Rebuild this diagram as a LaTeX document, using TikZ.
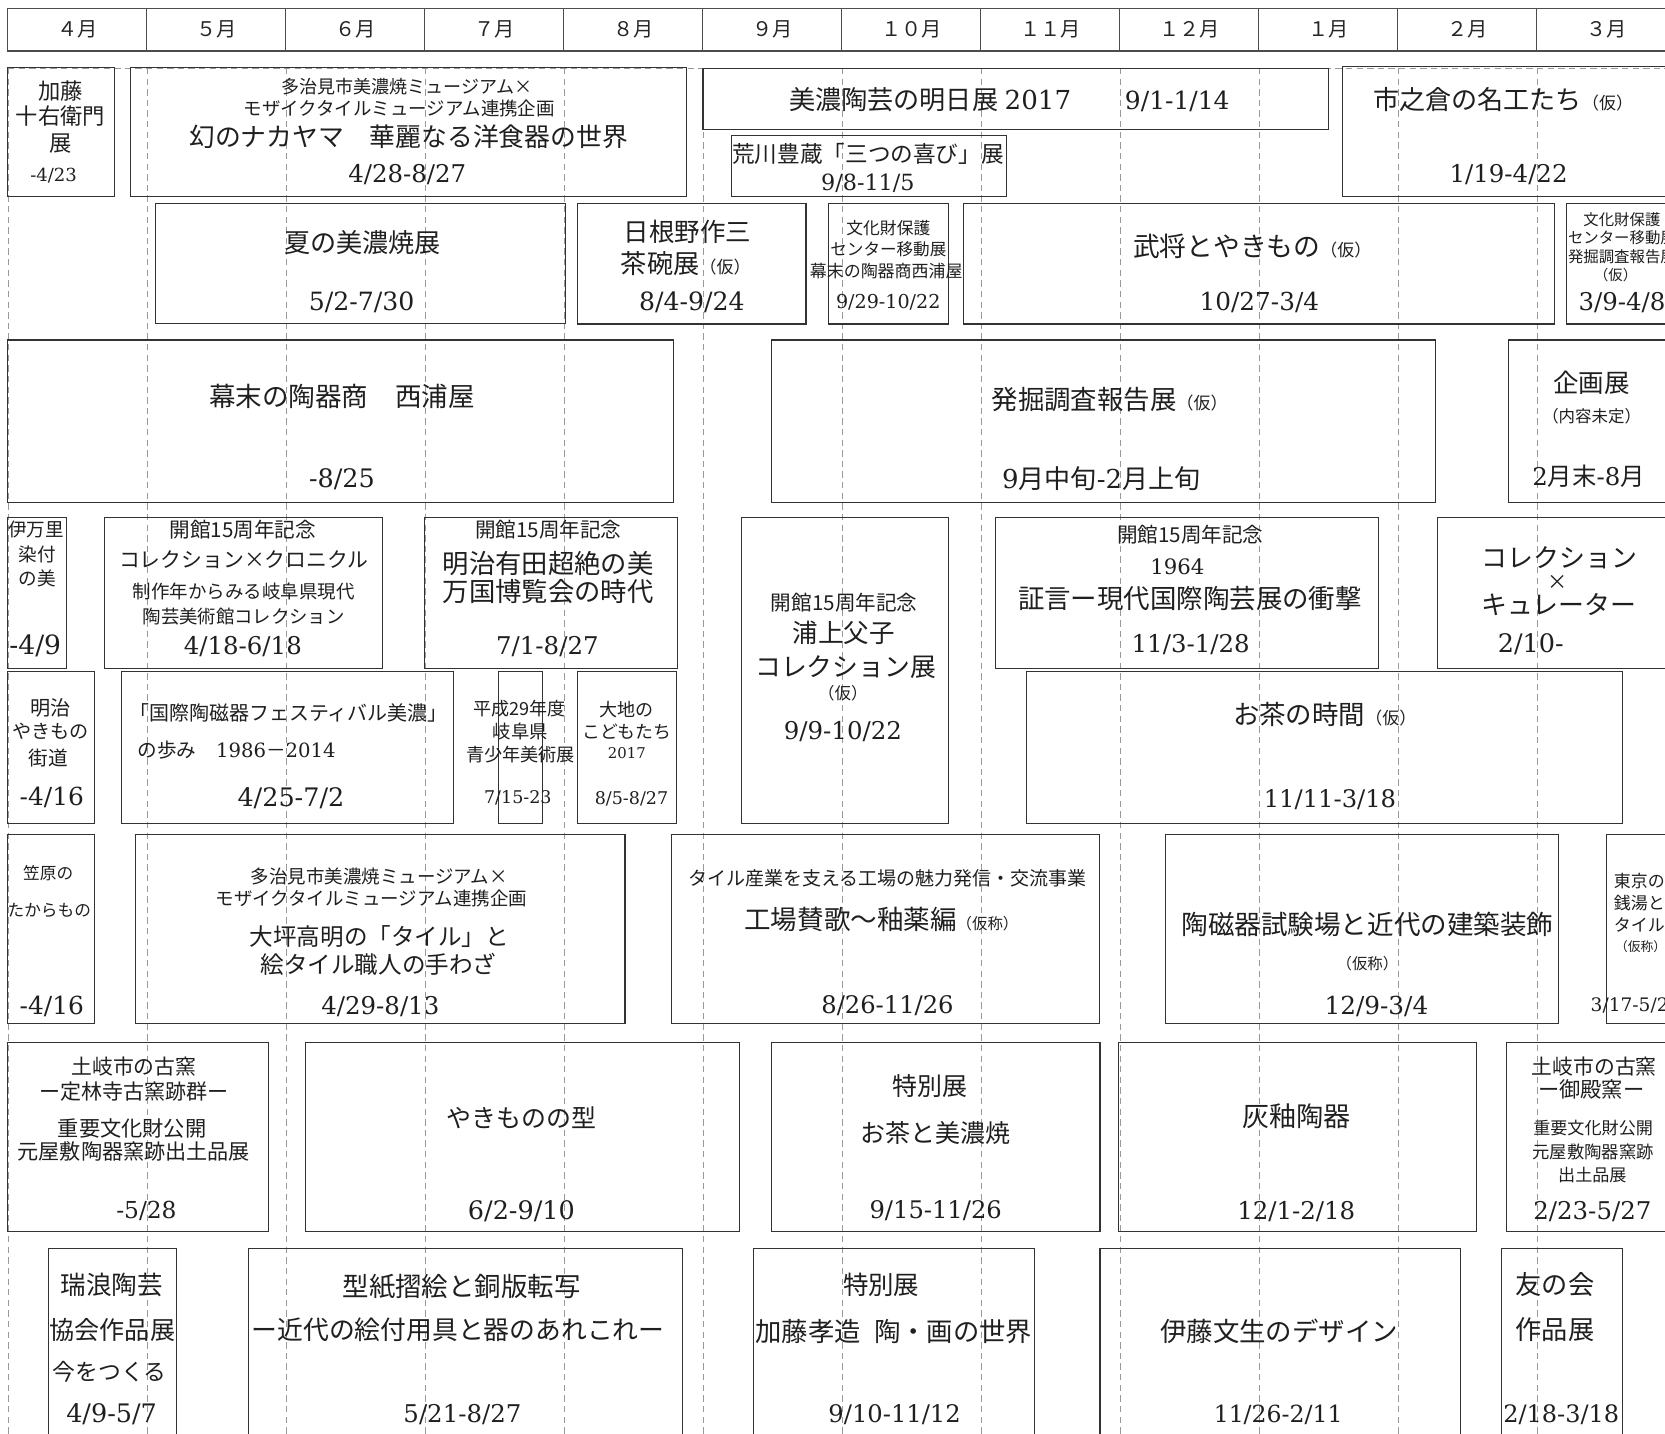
\documentclass[tikz,border=0pt]{standalone}
\usepackage{fontspec}
\setmainfont{Noto Sans CJK JP}
\newfontfamily\DtFont{DejaVu Serif}
\tikzset{
  ebx/.style={draw=black!80, line width=1.1pt, inner sep=0pt, outer sep=0pt, rectangle},
  txt/.style={inner sep=0pt, outer sep=0pt, anchor=base, text=black!88},
  txw/.style={txt, anchor=base west},
  hcell/.style={draw=black!70, line width=1pt, minimum width=130.9pt, minimum height=40pt, inner sep=0pt, outer sep=0pt, font=\fontsize{19}{19}\selectfont, text=black!85},
  vdash/.style={draw=black!40, line width=0.8pt, dash pattern=on 6pt off 4pt},
}
\newcommand\Ebox[5]{\node[ebx,minimum width={(#4)-(#2)},minimum height={(#5)-(#3)}] (#1) at ({((#2)+(#4))/2},{((#3)+(#5))/2}) {};}
\newcommand\Tx[5]{\node[txt,font=\fontsize{#4}{#4}\selectfont] (#1) at ({#2},{(#3)+0.37*(#4)}) {#5};}
\newcommand\Txl[5]{\node[txw,font=\fontsize{#4}{#4}\selectfont] (#1) at ({#2},{(#3)+0.37*(#4)}) {#5};}
\newcommand\Dx[5]{\node[txt,font=\DtFont\fontsize{#4}{#4}\selectfont] (#1) at ({#2},{(#3)+0.37*(#4)}) {#5};}
\newcommand\Dxl[5]{\node[txw,font=\DtFont\fontsize{#4}{#4}\selectfont] (#1) at ({#2},{(#3)+0.37*(#4)}) {#5};}
\newcommand\Sm[2]{{\fontsize{#1}{#1}\selectfont #2}}
\newcommand\Dg[1]{{\DtFont #1}}
\begin{document}
\begin{tikzpicture}[x=1pt,y=-1pt]
\useasboundingbox (0,0) rectangle (1568,1350);
\fill[white] (0,0) rectangle (1568,1350);
\clip (0,0) rectangle (1568,1350);
% grid
\foreach \i in {0,...,11} \draw[vdash] ({7.5+130.9*\i},64) -- ({7.5+130.9*\i},1350);
\draw[vdash] (7.5,64.4) -- (1568,64.4);
% header
\foreach \m [count=\i from 0] in {４月,５月,６月,７月,８月,９月,１０月,１１月,１２月,１月,２月,３月}
  \node[hcell] (m\i) at ({72.95+130.9*\i},28) {\m};
% Row 1
\Ebox{b1}{7.4}{63.7}{107.6}{185.2}
\Tx{t1a}{57}{86.3}{21}{加藤}
\Tx{t1b}{57}{109.9}{21}{十右衛門}
\Tx{t1c}{57}{135}{21}{展}
\Dx{d1}{50.5}{164.8}{17}{-4/23}
\Ebox{b2}{122.8}{63.5}{646.8}{185.2}
\Tx{t2a}{383}{82.2}{17}{多治見市美濃焼ミュージアム×}
\Tx{t2b}{376}{102}{17.4}{モザイクタイルミュージアム連携企画}
\Tx{t2c}{384.8}{128.7}{24.3}{幻のナカヤマ　華麗なる洋食器の世界}
\Dx{d2}{383.5}{163.2}{23}{4/28-8/27}
\Ebox{b3}{662}{64.4}{1250.8}{121.8}
\Tx{t3a}{876}{94.2}{24.6}{美濃陶芸の明日展\hspace{0.25em}\Dg{2017}}
\Dx{d3}{1108.7}{94.2}{23.5}{9/1-1/14}
\Ebox{b4}{688.8}{127.8}{947.5}{185.2}
\Tx{t4a}{817.5}{145}{21.3}{荒川豊蔵「三つの喜び」展}
\Dx{d4}{817.3}{172}{21}{9/8-11/5}
\Ebox{b5}{1264.2}{62.8}{1580}{185.2}
\Tx{t5a}{1415.5}{94.2}{24.6}{市之倉の名工たち\Sm{16}{（仮）}}
\Dx{d5}{1420.7}{163.2}{23}{1/19-4/22}
% Row 2
\Ebox{b6}{146.3}{191.5}{532.5}{304.5}
\Tx{t6a}{341.3}{229}{24.6}{夏の美濃焼展}
\Dx{d6}{340.5}{284}{23.7}{5/2-7/30}
\Ebox{b7}{543.9}{191.5}{759.1}{305.1}
\Tx{t7a}{647.5}{218.2}{24}{日根野作三}
\Tx{t7b}{645.8}{248}{24.7}{茶碗展\Sm{16}{（仮）}}
\Dx{d7}{651.6}{284}{23.7}{8/4-9/24}
\Ebox{b8}{780.3}{191.5}{893}{305.1}
\Tx{t8a}{836.6}{215}{15.8}{文化財保護}
\Tx{t8b}{836.6}{234.8}{15.6}{センター移動展}
\Tx{t8c}{834.6}{255.8}{16}{幕末の陶器商西浦屋}
\Dx{d8}{836.5}{284}{18}{9/29-10/22}
\Ebox{b9}{907.4}{191.5}{1463.7}{305.1}
\Tx{t9a}{1179.3}{232.3}{25.2}{武将とやきもの\Sm{16}{（仮）}}
\Dx{d9}{1186}{284}{23.3}{10/27-3/4}
\Ebox{b10}{1475.4}{191.5}{1580}{305.1}
\Tx{t10a}{1527.4}{207.2}{14.5}{文化財保護}
\Tx{t10b}{1527.4}{224.4}{14.5}{センター移動展}
\Tx{t10c}{1527.4}{241.7}{14.5}{発掘調査報告展}
\Tx{t10d}{1521.5}{259}{13.5}{（仮）}
\Dx{d10}{1527.5}{284}{23}{3/9-4/8}
% Row 3
\Ebox{b11}{7.4}{320.2}{634}{473.1}
\Tx{t11a}{322}{373.6}{25}{幕末の陶器商　西浦屋}
\Dx{d11}{322}{450.5}{24}{-8/25}
\Ebox{b12}{726.5}{320.2}{1351.7}{473.1}
\Tx{t12a}{1045}{376.7}{24.9}{発掘調査報告展\Sm{16}{（仮）}}
\Tx{t12b}{1037}{450.5}{24.5}{\Dg{9}月中旬\Dg{-2}月上旬}
\Ebox{b13}{1420.6}{320.2}{1580}{473.1}
\Tx{t13a}{1498.9}{361}{24}{企画展}
\Tx{t13b}{1498.9}{392.4}{15.5}{（内容未定）}
\Tx{t13c}{1496}{449}{23}{\Dg{2}月末\Dg{-8}月}
% Row 4
\Ebox{b14}{7.4}{487.2}{62.9}{629.4}
\Tx{t14a}{34}{499.1}{17.5}{伊万里}
\Tx{t14b}{35}{522.7}{17.5}{染付}
\Tx{t14c}{35}{544.7}{17.5}{の美}
\Dx{d14}{33.2}{607.4}{25}{-4/9}
\Ebox{b15}{98.5}{487.2}{360.5}{629.4}
\Tx{t15a}{228.7}{499.1}{19.4}{開館15周年記念}
\Tx{t15b}{229.5}{527.4}{19.6}{コレクション×クロニクル}
\Tx{t15c}{229.5}{557.2}{17.4}{制作年からみる岐阜県現代}
\Tx{t15d}{229.5}{580.7}{17.3}{陶芸美術館コレクション}
\Dx{d15}{228.7}{607.4}{23}{4/18-6/18}
\Ebox{b16}{399.5}{487.2}{638}{629.4}
\Tx{t16a}{516.3}{499.1}{19.4}{開館15周年記念}
\Tx{t16b}{516.3}{530.5}{24.8}{明治有田超絶の美}
\Tx{t16c}{516.3}{557.2}{24.8}{万国博覧会の時代}
\Dx{d16}{515.5}{607.4}{23}{7/1-8/27}
\Ebox{b17}{697.9}{487.2}{893}{775.4}
\Tx{t17a}{795}{568.2}{19.4}{開館15周年記念}
\Tx{t17b}{794.6}{596.5}{24}{浦上父子}
\Tx{t17c}{796.3}{627.8}{24.3}{コレクション展}
\Tx{t17d}{793.8}{653}{15.5}{（仮）}
\Dx{d17}{793.8}{687.5}{23}{9/9-10/22}
\Ebox{b18}{937.7}{487.2}{1297.9}{629.4}
\Tx{t18a}{1121}{503.8}{19.4}{開館15周年記念}
\Dx{d18a}{1108.7}{533.7}{20}{1964}
\Tx{t18b}{1120.6}{563.5}{24.9}{証言ー現代国際陶芸展の衝撃}
\Dx{d18}{1121.3}{605.9}{23}{11/3-1/28}
\Ebox{b19}{1353.4}{487.2}{1580}{629.4}
\Tx{t19a}{1468.5}{525.8}{24.4}{コレクション}
\Tx{t19b}{1467}{547.8}{19}{×}
\Tx{t19c}{1468}{569.5}{24.4}{キュレーター}
\Dx{d19}{1441.6}{605.9}{24}{2/10-}
% Row 5
\Ebox{b20}{7.4}{632.5}{89.1}{775.4}
\Tx{t20a}{47.9}{667.1}{19}{明治}
\Tx{t20b}{47.9}{689.1}{18}{やきもの}
\Tx{t20c}{45.5}{714.2}{18.5}{街道}
\Dx{d20}{48.8}{750.3}{23.4}{-4/16}
\Ebox{b21}{114.3}{632.5}{427}{775.4}
\Tx{t21a}{271.7}{671.8}{18.8}{「国際陶磁器フェスティバル美濃」}
\Txl{t21b}{129.5}{706.3}{18.5}{の歩み　\Dg{1986}－\Dg{2014}}
\Dx{d21}{274}{750.3}{24}{4/25-7/2}
\Ebox{b22}{469.1}{632.5}{510.5}{775.4}
\Tx{t22a}{489.4}{667.1}{17}{平成29年度}
\Tx{t22b}{490}{689.1}{17.3}{岐阜県}
\Tx{t22c}{490.2}{711}{17.1}{青少年美術展}
\Dx{d22}{487.7}{750.3}{16.5}{7/15-23}
\Ebox{b23}{543.9}{632.5}{637.4}{775.4}
\Tx{t23a}{590.3}{668.7}{17}{大地の}
\Tx{t23b}{590.3}{689.1}{16.8}{こどもたち}
\Dx{d23a}{590.3}{709.5}{14}{2017}
\Dx{d23}{594.7}{751.8}{16.5}{8/5-8/27}
\Ebox{b24}{967}{632.5}{1528.2}{775.4}
\Tx{t24a}{1247.5}{673.4}{24.9}{お茶の時間\Sm{16}{（仮）}}
\Dx{d24}{1252.5}{751.8}{22.8}{11/11-3/18}
% Row 6
\Ebox{b25}{7.4}{785.7}{89.1}{963.7}
\Tx{t25a}{45.4}{822.5}{15.7}{笠原の}
\Tx{t25b}{46.4}{857}{15.7}{たからもの}
\Dx{d25}{48.8}{946.4}{23.4}{-4/16}
\Ebox{b26}{127.8}{785.7}{588.6}{963.7}
\Tx{t26a}{357.3}{825.6}{17.4}{多治見市美濃焼ミュージアム×}
\Tx{t26b}{349.7}{846}{17.4}{モザイクタイルミュージアム連携企画}
\Tx{t26c}{357.3}{882.1}{22.2}{大坪高明の「タイル」と}
\Tx{t26d}{356.5}{908.8}{22.2}{絵タイル職人の手わざ}
\Dx{d26}{358.2}{946.4}{23}{4/29-8/13}
\Ebox{b27}{632.3}{785.7}{1035.2}{963.7}
\Tx{t27a}{835.8}{827.2}{17.9}{タイル産業を支える工場の魅力発信・交流事業}
\Tx{t27b}{830}{866.4}{25}{工場賛歌〜釉薬編\Sm{14.5}{（仮称）}}
\Dx{d27}{835.8}{946.4}{22.8}{8/26-11/26}
\Ebox{b28}{1097.8}{785.7}{1467.7}{963.7}
\Tx{t28a}{1287.8}{871.1}{25}{陶磁器試験場と近代の建築装飾}
\Tx{t28b}{1287.8}{907.2}{14.5}{（仮称）}
\Dx{d28}{1296.2}{946.4}{23.3}{12/9-3/4}
\Ebox{b29}{1513.1}{785.7}{1580}{963.7}
\Txl{t29a}{1519.8}{830.3}{16}{東京の}
\Txl{t29b}{1519.8}{850.7}{16}{銭湯と}
\Txl{t29c}{1519.8}{871.1}{16}{タイル}
\Txl{t29d}{1521}{891.5}{12}{（仮称）}
\Dxl{d29}{1498}{946.4}{17.5}{3/17-5/2}
% Row 7
\Ebox{b30}{7.4}{981.9}{252.9}{1159.9}
\Tx{t30a}{126.1}{1004.5}{19.6}{土岐市の古窯}
\Tx{t30b}{126.1}{1028.1}{19.8}{ー定林寺古窯跡群ー}
\Tx{t30c}{124.4}{1062.6}{20}{重要文化財公開}
\Tx{t30d}{126.1}{1084.6}{19.9}{元屋敷陶器窯跡出土品展}
\Dx{d30}{137.9}{1139.5}{22}{-5/28}
\Ebox{b31}{287.5}{981.9}{696.2}{1159.9}
\Tx{t31a}{491}{1053.2}{23.5}{やきものの型}
\Dx{d31}{491}{1139.5}{24}{6/2-9/10}
\Ebox{b32}{726.5}{981.9}{1035.9}{1159.9}
\Tx{t32a}{875.4}{1023.4}{23.5}{特別展}
\Tx{t32b}{881.2}{1067.3}{23.5}{お茶と美濃焼}
\Dx{d32}{881.2}{1139.5}{22.8}{9/15-11/26}
\Ebox{b33}{1053.4}{981.9}{1390.4}{1159.9}
\Tx{t33a}{1221.3}{1051.6}{25.5}{灰釉陶器}
\Dx{d33}{1220.7}{1139.5}{23}{12/1-2/18}
\Ebox{b34}{1418.9}{981.9}{1580}{1159.9}
\Tx{t34a}{1501.4}{1004.5}{19.6}{土岐市の古窯}
\Tx{t34b}{1498.6}{1026.5}{20}{ー御殿窯ー}
\Tx{t34c}{1500.3}{1062.6}{16.1}{重要文化財公開}
\Tx{t34d}{1500.3}{1084.6}{16.3}{元屋敷陶器窯跡}
\Tx{t34e}{1499.6}{1106.5}{16.1}{出土品展}
\Dx{d34}{1499.6}{1139.5}{23}{2/23-5/27}
% Row 8
\Ebox{b35}{45.4}{1175.6}{166.5}{1360}
\Tx{t35a}{105.1}{1210.1}{24}{瑞浪陶芸}
\Tx{t35b}{105.9}{1252.5}{23.6}{協会作品展}
\Tx{t35c}{103.4}{1291.7}{21.5}{今をつくる}
\Dx{d35}{105.1}{1331}{24}{4/9-5/7}
\Ebox{b36}{233.7}{1175.6}{642.4}{1360}
\Tx{t36a}{434.7}{1211.7}{24.9}{型紙摺絵と銅版転写}
\Tx{t36b}{431.4}{1252.5}{24.3}{ー近代の絵付用具と器のあれこれー}
\Dx{d36}{435.5}{1331}{23}{5/21-8/27}
\Ebox{b37}{709.7}{1175.6}{974.4}{1360}
\Tx{t37a}{829.9}{1210.1}{24}{特別展}
\Tx{t37b}{841.7}{1254.1}{24.8}{加藤孝造\hspace{0.5em}陶・画の世界}
\Dx{d37}{842.5}{1331}{22.8}{9/10-11/12}
\Ebox{b38}{1035.9}{1175.6}{1375.2}{1360}
\Tx{t38a}{1204.6}{1254.1}{24.9}{伊藤文生のデザイン}
\Dx{d38}{1203.7}{1331}{22.2}{11/26-2/11}
\Ebox{b39}{1413.9}{1175.6}{1528.2}{1360}
\Tx{t39a}{1464.3}{1210.1}{24.7}{友の会}
\Tx{t39b}{1464.3}{1252.5}{24.7}{作品展}
\Dx{d39}{1470.3}{1331}{22.6}{2/18-3/18}
\end{tikzpicture}
\end{document}
